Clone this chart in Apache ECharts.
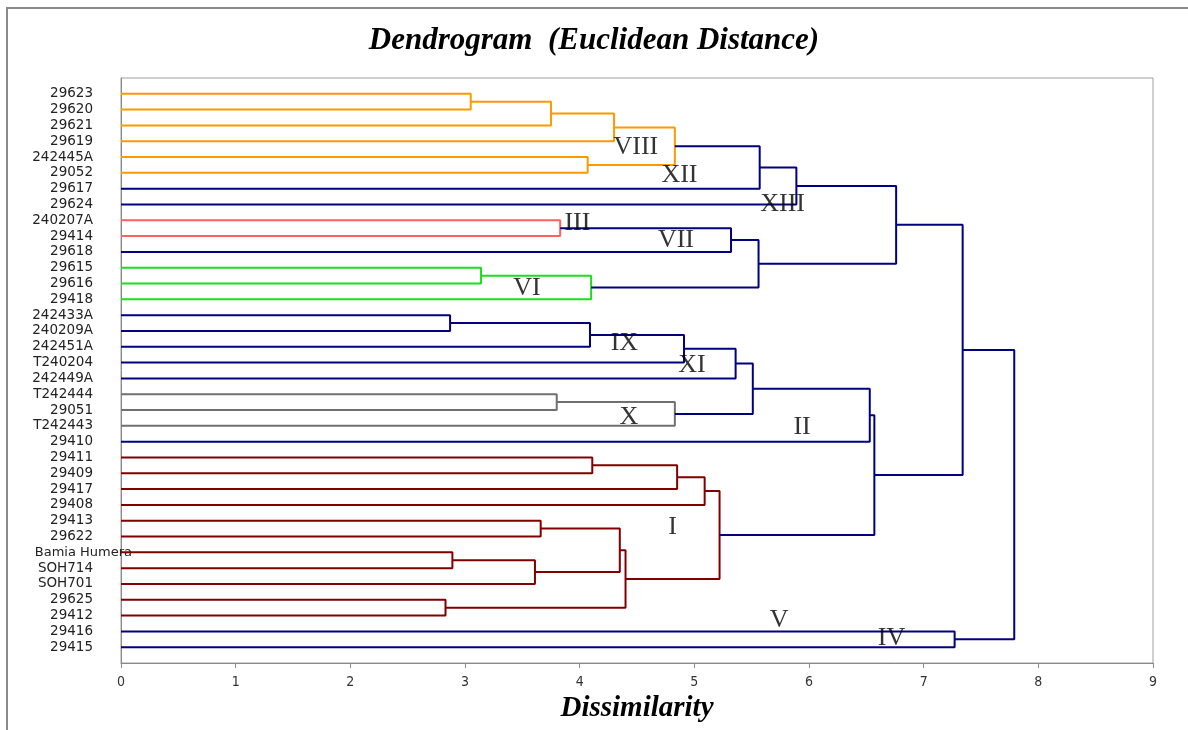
<!DOCTYPE html>
<html>
<head>
<meta charset="utf-8">
<script src="https://cdn.jsdelivr.net/npm/echarts@6/dist/echarts.min.js"></script>
<style>
html,body{margin:0;padding:0;background:#fff;}
#chart{width:1188px;height:730px;}
</style>
</head>
<body>
<div id="chart"></div>
<script>
// Leaves, top to bottom
const leaves = ['29623','29620','29621','29619','242445A','29052','29617','29624','240207A','29414','29618','29615','29616','29418','242433A','240209A','242451A','T240204','242449A','T242444','29051','T242443','29410','29411','29409','29417','29408','29413','29622','Bamia Humera','SOH714','SOH701','29625','29412','29416','29415'];

// Merges: ids 0..35 are leaves, merge k creates cluster id 36+k
const mergeLeft   = [0, 36, 37, 4, 38, 40, 41, 8, 43, 11, 45, 44, 42, 14, 49, 50, 51, 19, 53, 52, 55, 23, 57, 58, 27, 29, 61, 60, 32, 63, 59, 56, 48, 34, 68];
const mergeRight  = [1, 2, 3, 5, 39, 6, 7, 9, 10, 12, 13, 46, 47, 15, 16, 17, 18, 20, 21, 54, 22, 24, 25, 26, 28, 30, 31, 62, 33, 64, 65, 66, 67, 35, 69];
const mergeHeight = [3.05, 3.75, 4.30, 4.07, 4.83, 5.57, 5.89, 3.83, 5.32, 3.14, 4.10, 5.56, 6.76, 2.87, 4.09, 4.91, 5.36, 3.80, 4.83, 5.51, 6.53, 4.11, 4.85, 5.09, 3.66, 2.89, 3.61, 4.35, 2.83, 4.40, 5.22, 6.57, 7.34, 7.27, 7.79];
const mergeGroup  = ['o','o','o','o','o','n','n','r','n','g','g','n','n','n','n','n','n','k','k','n','n','b','b','b','b','b','b','b','b','b','b','n','n','n','n'];

// Cluster labels (Roman numerals)
const clusterLabels = ['VIII','XII','XIII','III','VII','VI','IX','XI','X','II','I','V','IV'];
const clusterLabelX = [4.49, 4.87, 5.77, 3.98, 4.84, 3.54, 4.39, 4.98, 4.43, 5.94, 4.81, 5.74, 6.72];
const clusterLabelY = [3.35, 5.14, 6.97, 8.18, 9.25, 12.29, 15.77, 17.16, 20.44, 21.07, 27.40, 33.30, 34.44];

const groupColors = {o:'#FF9900', n:'#000080', r:'#FF6060', g:'#1EDC1E', k:'#707070', b:'#800000'};

const pos = leaves.map((_, i) => i);
const hts = leaves.map(() => 0);
const series = [];
for (let k = 0; k < mergeLeft.length; k++) {
  const a = mergeLeft[k], b = mergeRight[k], h = mergeHeight[k];
  series.push({
    type: 'line',
    data: [[hts[a], pos[a]], [h, pos[a]], [h, pos[b]], [hts[b], pos[b]]],
    showSymbol: false,
    silent: true,
    animation: false,
    lineStyle: {color: groupColors[mergeGroup[k]], width: 2},
    z: 2
  });
  pos.push((pos[a] + pos[b]) / 2);
  hts.push(h);
}
series.push({
  type: 'scatter',
  symbolSize: 1,
  itemStyle: {color: 'rgba(0,0,0,0)'},
  silent: true,
  animation: false,
  z: 3,
  data: clusterLabels.map((n, i) => ({name: n, value: [clusterLabelX[i], clusterLabelY[i]]})),
  label: {
    show: true, position: 'inside', formatter: p => p.name,
    fontFamily: '"Liberation Serif", "DejaVu Serif", serif', fontSize: 26, color: '#000'
  }
});

const chart = echarts.init(document.getElementById('chart'), null, {renderer: 'canvas'});
chart.setOption({
  backgroundColor: '#fff',
  animation: false,
  title: {
    text: 'Dendrogram  (Euclidean Distance)',
    left: 'center', top: 20,
    textStyle: {fontFamily: '"Liberation Serif", serif', fontStyle: 'italic', fontWeight: 'bold', fontSize: 31, color: '#000'}
  },
  graphic: [{
    type: 'rect', shape: {x: 7, y: 8, width: 1300, height: 900},
    style: {fill: 'none', stroke: '#8a8a8a', lineWidth: 2}, silent: true
  }],
  grid: {left: 121, right: 35, top: 78, bottom: 67, show: true, borderColor: '#a0a0a0', borderWidth: 1},
  xAxis: {
    type: 'value', min: 0, max: 9, interval: 1,
    name: 'Dissimilarity', nameLocation: 'middle', nameGap: 31,
    nameTextStyle: {fontFamily: '"Liberation Serif", serif', fontStyle: 'italic', fontWeight: 'bold', fontSize: 29, color: '#000'},
    axisLine: {onZero: false, lineStyle: {color: '#8a8a8a'}},
    axisTick: {show: true, length: 5, lineStyle: {color: '#8a8a8a'}},
    axisLabel: {margin: 12, fontSize: 14, color: '#333', fontFamily: '"Liberation Sans Narrow", "DejaVu Sans Condensed", sans-serif'},
    splitLine: {show: false}
  },
  yAxis: {
    type: 'value', inverse: true, min: -1, max: 36, interval: 1,
    axisLine: {show: true, onZero: false, lineStyle: {color: '#8a8a8a'}},
    axisTick: {show: false},
    splitLine: {show: false},
    axisLabel: {
      margin: -11,
      formatter: v => {
        const s = leaves[v];
        if (s === undefined) return '';
        return s === 'Bamia Humera' ? '{bh|' + s + '}' : '{n|' + s + '}';
      },
      rich: {
        n: {fontFamily: '"DejaVu Sans", Verdana, sans-serif', fontSize: 13.5, color: '#222', padding: [0, 39, 0, 0]},
        bh: {fontFamily: '"DejaVu Sans", Verdana, sans-serif', fontSize: 13, color: '#222'}
      }
    }
  },
  series: series
});
</script>
</body>
</html>
